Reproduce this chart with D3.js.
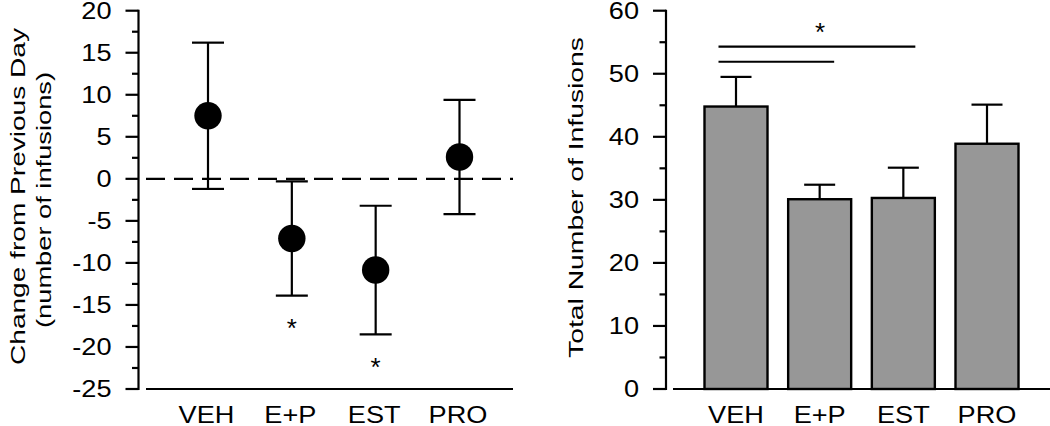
<!DOCTYPE html>
<html>
<head>
<meta charset="utf-8">
<script src="https://cdn.jsdelivr.net/npm/d3@7"></script>
<style>
  html, body { margin: 0; padding: 0; background: #fff; }
  svg { display: block; }
  text { font-family: "Liberation Sans", Arial, sans-serif; fill: #000; }
</style>
</head>
<body>
<svg id="chart" width="1050" height="426"></svg>
<script>
// ---------- data ----------
const categories = ["VEH", "E+P", "EST", "PRO"];

// Left panel: change from previous day (mean, SEM)
const changeMean = [7.5, -7.1, -10.85, 2.6];
const changeErr  = [8.7, 6.8, 7.65, 6.8];
const changeSig  = [false, true, true, false];
const leftTicks  = [20, 15, 10, 5, 0, -5, -10, -15, -20, -25];

// Right panel: total number of infusions (mean, SEM)
const totalMean = [44.8, 30.1, 30.3, 38.9];
const totalErr  = [4.7, 2.3, 4.8, 6.2];
const rightTicks = [0, 10, 20, 30, 40, 50, 60];
const sigBrackets = [
  { from: "VEH", to: "EST", value: 54.3 },
  { from: "VEH", to: "E+P", value: 51.9 }
];
const sigStarValue = 57.6;

const leftYLabel = ["Change from Previous Day", "(number of infusions)"];
const rightYLabel = "Total Number of Infusions";

// ---------- drawing ----------
const svg = d3.select("#chart");
const FONT = 23;     // tick & category labels
const SX = 1.18;     // horizontal widening of label glyphs
const SW = 2.2;

function hText(g, x, y, txt, anchor) {
  return g.append("text")
    .attr("transform", `translate(${x},${y}) scale(${SX},1)`)
    .attr("text-anchor", anchor).attr("font-size", FONT)
    .text(txt);
}

function yAxis(g, scale, major, minorStep, x) {
  const [d0, d1] = scale.domain();
  const minor = d3.range(Math.min(d0, d1), Math.max(d0, d1) + 1e-9, minorStep)
    .filter(v => !major.some(m => Math.abs(m - v) < 1e-9));
  const ax = g.append("g").attr("transform", `translate(${x},0)`);
  ax.append("line").attr("x1", 0).attr("x2", 0)
    .attr("y1", scale(d1) - 1).attr("y2", scale(d0) + 1)
    .attr("stroke", "#000").attr("stroke-width", SW);
  ax.selectAll("line.maj").data(major).join("line").attr("class", "maj")
    .attr("x1", -13).attr("x2", 0)
    .attr("y1", d => scale(d)).attr("y2", d => scale(d))
    .attr("stroke", "#000").attr("stroke-width", SW);
  ax.selectAll("line.min").data(minor).join("line").attr("class", "min")
    .attr("x1", -6.5).attr("x2", 0)
    .attr("y1", d => scale(d)).attr("y2", d => scale(d))
    .attr("stroke", "#000").attr("stroke-width", SW);
  major.forEach(v => hText(ax, -27, scale(v) + FONT * 0.36, String(v), "end"));
}

// ----- Left panel -----
const yL = d3.scaleLinear().domain([-25, 20]).range([389, 10.7]);
const xL = d3.scalePoint().domain(categories).range([208, 459.5]);
const gL = svg.append("g");

yAxis(gL, yL, leftTicks, 2.5, 138.5);

gL.append("line").attr("x1", 146).attr("x2", 513)
  .attr("y1", yL(-25)).attr("y2", yL(-25))
  .attr("stroke", "#000").attr("stroke-width", SW);
categories.forEach(c => hText(gL, xL(c) - 1.5, 422.5, c, "middle"));

// zero dashed line
gL.append("line").attr("x1", 146).attr("x2", 513)
  .attr("y1", yL(0)).attr("y2", yL(0))
  .attr("stroke", "#000").attr("stroke-width", SW)
  .attr("stroke-dasharray", "19,9");

const leftData = categories.map((c, i) => ({ c, m: changeMean[i], e: changeErr[i], s: changeSig[i] }));
const eb = gL.selectAll("g.eb").data(leftData).join("g").attr("class", "eb");
eb.append("line").attr("x1", d => xL(d.c)).attr("x2", d => xL(d.c))
  .attr("y1", d => yL(d.m + d.e)).attr("y2", d => yL(d.m - d.e))
  .attr("stroke", "#000").attr("stroke-width", SW);
eb.append("line").attr("x1", d => xL(d.c) - 16).attr("x2", d => xL(d.c) + 16)
  .attr("y1", d => yL(d.m + d.e)).attr("y2", d => yL(d.m + d.e))
  .attr("stroke", "#000").attr("stroke-width", SW);
eb.append("line").attr("x1", d => xL(d.c) - 16).attr("x2", d => xL(d.c) + 16)
  .attr("y1", d => yL(d.m - d.e)).attr("y2", d => yL(d.m - d.e))
  .attr("stroke", "#000").attr("stroke-width", SW);
eb.append("circle").attr("cx", d => xL(d.c)).attr("cy", d => yL(d.m))
  .attr("r", 13.7).attr("fill", "#000");
gL.selectAll("text.star").data(leftData.filter(d => d.s)).join("text").attr("class", "star")
  .attr("x", d => xL(d.c)).attr("y", d => yL(d.m - d.e) + 41.5)
  .attr("text-anchor", "middle").attr("font-size", 26)
  .text("*");

// left y label
gL.append("text").attr("transform", "translate(25,196.5) rotate(-90)")
  .attr("text-anchor", "middle").attr("font-size", 21)
  .attr("textLength", 337).attr("lengthAdjust", "spacingAndGlyphs")
  .text(leftYLabel[0]);
gL.append("text").attr("transform", "translate(50.5,200) rotate(-90)")
  .attr("text-anchor", "middle").attr("font-size", 21)
  .attr("textLength", 256).attr("lengthAdjust", "spacingAndGlyphs")
  .text(leftYLabel[1]);

// ----- Right panel -----
const yR = d3.scaleLinear().domain([0, 60]).range([389, 10.7]);
const xR = d3.scalePoint().domain(categories).range([736, 987]);
const gR = svg.append("g");
const BW = 63;

const rightData = categories.map((c, i) => ({ c, m: totalMean[i], e: totalErr[i] }));
gR.selectAll("rect.bar").data(rightData).join("rect").attr("class", "bar")
  .attr("x", d => xR(d.c) - BW / 2).attr("width", BW)
  .attr("y", d => yR(d.m)).attr("height", d => yR(0) - yR(d.m))
  .attr("fill", "#979797").attr("stroke", "#000").attr("stroke-width", 2.4);
const ebr = gR.selectAll("g.ebr").data(rightData).join("g").attr("class", "ebr");
ebr.append("line").attr("x1", d => xR(d.c)).attr("x2", d => xR(d.c))
  .attr("y1", d => yR(d.m)).attr("y2", d => yR(d.m + d.e))
  .attr("stroke", "#000").attr("stroke-width", SW);
ebr.append("line").attr("x1", d => xR(d.c) - 15.5).attr("x2", d => xR(d.c) + 15.5)
  .attr("y1", d => yR(d.m + d.e)).attr("y2", d => yR(d.m + d.e))
  .attr("stroke", "#000").attr("stroke-width", SW);

yAxis(gR, yR, rightTicks, 5, 666);

gR.append("line").attr("x1", 673).attr("x2", 1050)
  .attr("y1", yR(0)).attr("y2", yR(0))
  .attr("stroke", "#000").attr("stroke-width", SW);
categories.forEach(c => hText(gR, xR(c), 422.5, c, "middle"));

// significance brackets
gR.selectAll("line.br").data(sigBrackets).join("line").attr("class", "br")
  .attr("x1", d => xR(d.from) - 17.5)
  .attr("x2", d => xR(d.to) + (d.to === "EST" ? 12 : 14.5))
  .attr("y1", d => yR(d.value)).attr("y2", d => yR(d.value))
  .attr("stroke", "#000").attr("stroke-width", SW);
gR.append("text")
  .attr("x", (xR("VEH") + xR("EST")) / 2 + 0.5)
  .attr("y", yR(sigStarValue) + 15)
  .attr("text-anchor", "middle").attr("font-size", 26)
  .text("*");

// right y label
gR.append("text").attr("transform", "translate(583,197.5) rotate(-90)")
  .attr("text-anchor", "middle").attr("font-size", 21)
  .attr("textLength", 321).attr("lengthAdjust", "spacingAndGlyphs")
  .text(rightYLabel);
</script>
</body>
</html>
